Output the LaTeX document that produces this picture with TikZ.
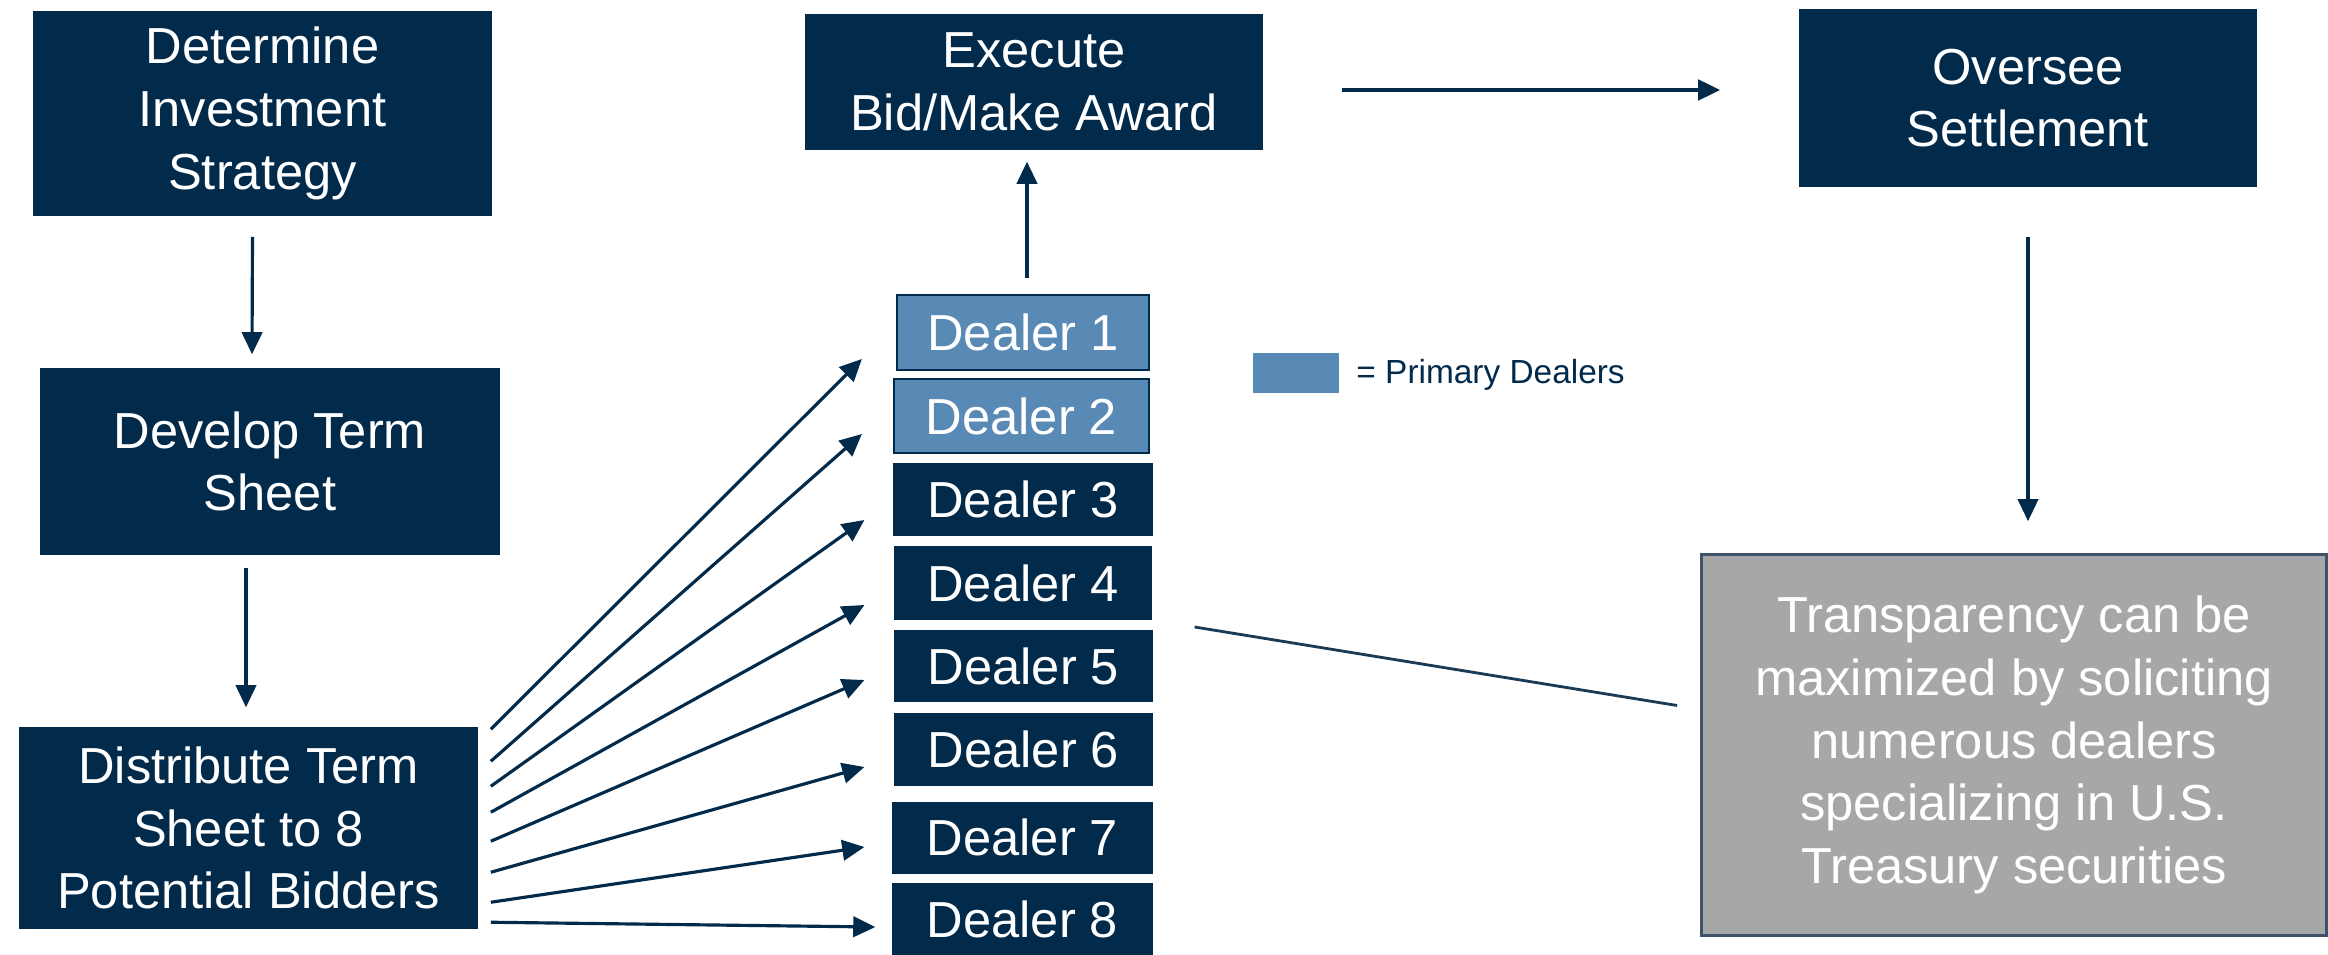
\documentclass[tikz,border=0pt]{standalone}
\usepackage{fontspec}
\setmainfont{Liberation Sans}
\usetikzlibrary{arrows.meta,calc}
\definecolor{navy}{RGB}{2,42,74}
\definecolor{pblue}{RGB}{88,138,181}
\definecolor{grayfill}{RGB}{166,167,169}
\definecolor{grayedge}{RGB}{62,82,104}
\tikzset{
  box/.style={rectangle, fill=navy, text=white, align=center, inner sep=0pt,
    font=\fontsize{14.4pt}{17.8pt}\selectfont},
  dealer/.style={box, draw=white, line width=0.3pt},
  pdealer/.style={box, fill=pblue, draw=navy, line width=0.6pt},
  note/.style={box, fill=grayfill, draw=grayedge, line width=0.7pt},
  arr/.style={draw=navy, line width=0.9pt, -{Triangle[length=6.3pt,width=5.8pt]}},
  thickarr/.style={arr, line width=1.2pt},
  plainline/.style={draw=navy!80!gray, line width=0.8pt}
}
\begin{document}
\begin{tikzpicture}[x=0.01cm, y=-0.01cm]
\useasboundingbox (0,0) rectangle (2328,955);

% main boxes
\node[box, minimum width=4.59cm, minimum height=2.05cm] (det) at (262.5,113.5) {Determine\\Investment\\Strategy};
\node[box, minimum width=4.60cm, minimum height=1.87cm] (dev) at (270,461.5) {Develop Term\\Sheet};
\node[box, minimum width=4.59cm, minimum height=2.02cm] (dist) at (248.5,828) {Distribute Term\\Sheet to 8\\Potential Bidders};
\node[box, minimum width=4.58cm, minimum height=1.36cm] (exe) at (1034,82) {Execute\\Bid/Make Award};
\node[box, minimum width=4.58cm, minimum height=1.78cm] (ovs) at (2028,98) {Oversee\\Settlement};
\node[note, minimum width=6.25cm, minimum height=3.81cm] (gray) at (2014,745) {Transparency can be\\maximized by soliciting\\numerous dealers\\specializing in U.S.\\Treasury securities};

% dealers
\node[pdealer, minimum width=2.52cm, minimum height=0.75cm] (d1) at (1023,332.5) {Dealer 1};
\node[pdealer, minimum width=2.55cm, minimum height=0.74cm] (d2) at (1021.5,416) {Dealer 2};
\node[dealer, minimum width=2.60cm, minimum height=0.75cm] (d3) at (1023,499.5) {Dealer 3};
\node[dealer, minimum width=2.58cm, minimum height=0.76cm] (d4) at (1023,583) {Dealer 4};
\node[dealer, minimum width=2.59cm, minimum height=0.74cm] (d5) at (1023.5,666) {Dealer 5};
\node[dealer, minimum width=2.59cm, minimum height=0.74cm] (d6) at (1023.5,749) {Dealer 6};
\node[dealer, minimum width=2.61cm, minimum height=0.73cm] (d7) at (1022.5,837.5) {Dealer 7};
\node[dealer, minimum width=2.61cm, minimum height=0.75cm] (d8) at (1022.5,919.5) {Dealer 8};

% legend
\node[rectangle, fill=pblue, minimum width=0.86cm, minimum height=0.40cm, inner sep=0pt] (leg) at (1296,373) {};
\node[anchor=west, text=navy, inner sep=0pt, font=\fontsize{9.5pt}{11pt}\selectfont] (legtxt) at ($(leg.east)+(16,2)$) {= Primary Dealers};

% vertical / horizontal arrows
\draw[arr] ($(det.south)+(-10,20)$) -- ($(dev.north)+(-18,-13)$);
\draw[arr] ($(dev.south)+(-24,12)$) -- ($(dist.north)+(-2.5,-19)$);
\draw[arr] ($(d1.north)+(4,-16)$) -- ($(exe.south)+(-7,11)$);
\draw[thickarr] ($(exe.east)+(78,8)$) -- ($(ovs.west)+(-78,-8)$);
\draw[arr] ($(ovs.south)+(0,49)$) -- ($(gray.north)+(14,-32)$);

% fan arrows
\draw[arr] ($(dist.north east)+(12,3)$)   -- ($(d1.west)+(-34,26.5)$);
\draw[arr] ($(dist.north east)+(12,35)$)  -- ($(d2.west)+(-31,18)$);
\draw[arr] ($(dist.north east)+(12,60)$)  -- ($(d3.west)+(-28,20.5)$);
\draw[arr] ($(dist.north east)+(12,86)$)  -- ($(d4.west)+(-29,22)$);
\draw[arr] ($(dist.north east)+(12,115)$) -- ($(d5.west)+(-29,14)$);
\draw[arr] ($(dist.north east)+(12,146)$) -- ($(d6.west)+(-29,18)$);
\draw[arr] ($(dist.north east)+(12,176)$) -- ($(d7.west)+(-27,9.5)$);
\draw[arr] ($(dist.north east)+(12,196)$) -- ($(d8.west)+(-16,7.5)$);

% callout line
\draw[plainline] ($(d4.east)+(42,44)$) -- ($(gray.west)+(-23,-39.5)$);
\end{tikzpicture}
\end{document}
